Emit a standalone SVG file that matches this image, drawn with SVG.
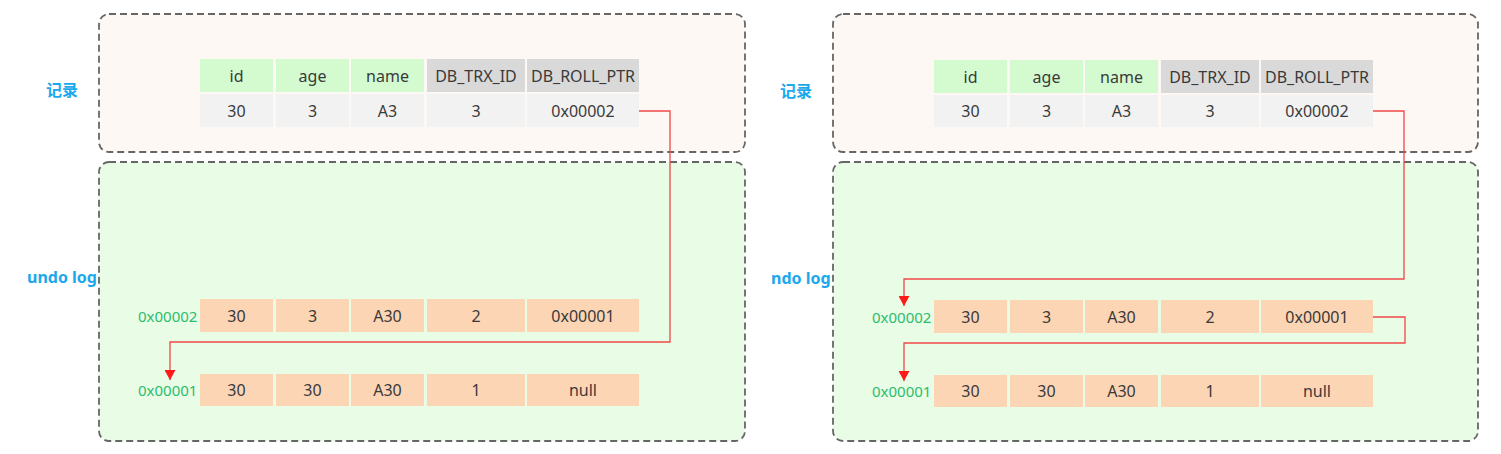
<svg xmlns="http://www.w3.org/2000/svg" width="1501" height="454" viewBox="0 0 1501 454">
<defs>
<style>
.top{fill:#fdf8f4;stroke:#666;stroke-width:1.8;stroke-dasharray:7 4}
.bot{fill:#e9fce6;stroke:#666;stroke-width:1.8;stroke-dasharray:7 4}
.hg{fill:#d4fad0}
.hd{fill:#d9d9d9}
.dr{fill:#f2f2f2}
.ur{fill:#fcd5b4}
.t{font-family:"Noto Sans","Open Sans",sans-serif;font-size:16px;fill:#3a3a3a;text-anchor:middle;dominant-baseline:central}
.lb{font-family:"Noto Sans","Noto Sans CJK SC",sans-serif;font-size:16px;font-weight:bold;fill:#1ba8ec;dominant-baseline:central}
.addr{font-family:"Noto Sans","Open Sans",sans-serif;font-size:15px;fill:#2dbd6e;dominant-baseline:central}
.conn{fill:none;stroke:#f04848;stroke-width:1.3}
</style>
<marker id="arr" markerUnits="userSpaceOnUse" markerWidth="11" markerHeight="11" viewBox="0 0 10 11" refX="10" refY="5.5" orient="auto">
<path d="M0,0 L10,5.5 L0,11 Z" fill="#ff1a1a"/>
</marker>
</defs>

<!-- LEFT PANEL -->
<g id="left-record-box"><rect class="top" x="99" y="14" width="646" height="138" rx="10"/></g>
<g id="left-undo-box"><rect class="bot" x="99" y="162" width="646" height="279" rx="10"/></g>
<g id="left-label-record"><text class="lb" x="46" y="90" font-size="18">记录</text></g>
<g id="left-label-undo"><text class="lb" x="27" y="277">undo log</text></g>

<g id="left-header">
<rect class="hg" x="200" y="59" width="73" height="33"/><text class="t" x="236.5" y="75.5">id</text>
<rect class="hg" x="276" y="59" width="73" height="33"/><text class="t" x="312.5" y="75.5">age</text>
<rect class="hg" x="351" y="59" width="73" height="33"/><text class="t" x="387.5" y="75.5">name</text>
<rect class="hd" x="427" y="59" width="98" height="33"/><text class="t" x="476" y="75.5">DB_TRX_ID</text>
<rect class="hd" x="527" y="59" width="112" height="33"/><text class="t" x="583" y="75.5">DB_ROLL_PTR</text>
</g>
<g id="left-record-row">
<rect class="dr" x="200" y="94" width="73" height="33"/><text class="t" x="236.5" y="110.5">30</text>
<rect class="dr" x="276" y="94" width="73" height="33"/><text class="t" x="312.5" y="110.5">3</text>
<rect class="dr" x="351" y="94" width="73" height="33"/><text class="t" x="387.5" y="110.5">A3</text>
<rect class="dr" x="427" y="94" width="98" height="33"/><text class="t" x="476" y="110.5">3</text>
<rect class="dr" x="527" y="94" width="112" height="33"/><text class="t" x="583" y="110.5">0x00002</text>
</g>
<g id="left-undo-0x00002">
<text class="addr" x="138" y="315.5">0x00002</text>
<rect class="ur" x="200" y="299" width="73" height="33"/><text class="t" x="236.5" y="315.5">30</text>
<rect class="ur" x="276" y="299" width="73" height="33"/><text class="t" x="312.5" y="315.5">3</text>
<rect class="ur" x="351" y="299" width="73" height="33"/><text class="t" x="387.5" y="315.5">A30</text>
<rect class="ur" x="427" y="299" width="98" height="33"/><text class="t" x="476" y="315.5">2</text>
<rect class="ur" x="527" y="299" width="112" height="33"/><text class="t" x="583" y="315.5">0x00001</text>
</g>
<g id="left-undo-0x00001">
<text class="addr" x="138" y="390">0x00001</text>
<rect class="ur" x="200" y="374" width="73" height="32"/><text class="t" x="236.5" y="390">30</text>
<rect class="ur" x="276" y="374" width="73" height="32"/><text class="t" x="312.5" y="390">30</text>
<rect class="ur" x="351" y="374" width="73" height="32"/><text class="t" x="387.5" y="390">A30</text>
<rect class="ur" x="427" y="374" width="98" height="32"/><text class="t" x="476" y="390">1</text>
<rect class="ur" x="527" y="374" width="112" height="32"/><text class="t" x="583" y="390">null</text>
</g>

<!-- RIGHT PANEL -->
<g id="right-record-box"><rect class="top" x="833" y="14" width="645" height="138" rx="10"/></g>
<g id="right-undo-box"><rect class="bot" x="833" y="162" width="645" height="279" rx="10"/></g>
<g id="right-label-record"><text class="lb" x="780" y="91" font-size="18">记录</text></g>
<g id="right-label-undo"><text class="lb" x="771" y="278">ndo log</text></g>

<g id="right-header">
<rect class="hg" x="934" y="60" width="73" height="33"/><text class="t" x="970.5" y="76.5">id</text>
<rect class="hg" x="1010" y="60" width="73" height="33"/><text class="t" x="1046.5" y="76.5">age</text>
<rect class="hg" x="1085" y="60" width="73" height="33"/><text class="t" x="1121.5" y="76.5">name</text>
<rect class="hd" x="1161" y="60" width="98" height="33"/><text class="t" x="1210" y="76.5">DB_TRX_ID</text>
<rect class="hd" x="1261" y="60" width="112" height="33"/><text class="t" x="1317" y="76.5">DB_ROLL_PTR</text>
</g>
<g id="right-record-row">
<rect class="dr" x="934" y="95" width="73" height="32"/><text class="t" x="970.5" y="111">30</text>
<rect class="dr" x="1010" y="95" width="73" height="32"/><text class="t" x="1046.5" y="111">3</text>
<rect class="dr" x="1085" y="95" width="73" height="32"/><text class="t" x="1121.5" y="111">A3</text>
<rect class="dr" x="1161" y="95" width="98" height="32"/><text class="t" x="1210" y="111">3</text>
<rect class="dr" x="1261" y="95" width="112" height="32"/><text class="t" x="1317" y="111">0x00002</text>
</g>
<g id="right-undo-0x00002">
<text class="addr" x="872" y="316.5">0x00002</text>
<rect class="ur" x="934" y="300" width="73" height="33"/><text class="t" x="970.5" y="316.5">30</text>
<rect class="ur" x="1010" y="300" width="73" height="33"/><text class="t" x="1046.5" y="316.5">3</text>
<rect class="ur" x="1085" y="300" width="73" height="33"/><text class="t" x="1121.5" y="316.5">A30</text>
<rect class="ur" x="1161" y="300" width="98" height="33"/><text class="t" x="1210" y="316.5">2</text>
<rect class="ur" x="1261" y="300" width="112" height="33"/><text class="t" x="1317" y="316.5">0x00001</text>
</g>
<g id="right-undo-0x00001">
<text class="addr" x="872" y="391">0x00001</text>
<rect class="ur" x="934" y="375" width="73" height="32"/><text class="t" x="970.5" y="391">30</text>
<rect class="ur" x="1010" y="375" width="73" height="32"/><text class="t" x="1046.5" y="391">30</text>
<rect class="ur" x="1085" y="375" width="73" height="32"/><text class="t" x="1121.5" y="391">A30</text>
<rect class="ur" x="1161" y="375" width="98" height="32"/><text class="t" x="1210" y="391">1</text>
<rect class="ur" x="1261" y="375" width="112" height="32"/><text class="t" x="1317" y="391">null</text>
</g>

<g id="connectors">
<path class="conn" d="M639,111 H670 V342 H170 V380" marker-end="url(#arr)"/>
<path class="conn" d="M1373,111 H1404 V279 H904 V306" marker-end="url(#arr)"/>
<path class="conn" d="M1373,317 H1405 V343 H904 V381" marker-end="url(#arr)"/>
</g>
</svg>
